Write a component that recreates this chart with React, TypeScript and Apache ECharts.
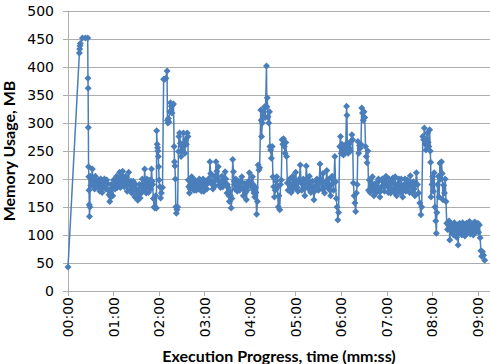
import React, { useEffect, useRef } from "react";
import * as echarts from "echarts";

// [seconds, MB]
const minute0: number[][] = [
  [0, 43],
  [15, 425], [15.4, 432], [15.8, 438], [16.2, 442],
  [19, 452], [23, 452], [26, 452],
  [26.3, 380], [26.5, 362], [26.8, 292], [27.1, 222], [27.4, 204], [27.7, 180], [28, 154], [28.3, 133], [28.8, 150], [29.3, 205], [30, 188],
  [31, 200], [32, 218], [33, 190], [34, 196], [35, 182], [36, 205], [37, 195], [38, 186], [39, 192], [40, 198], [41, 185],
  [42, 178], [43, 200], [44, 195], [45, 176], [46, 185], [47, 196], [48, 200], [49, 188], [50, 182],
  [51, 198], [52, 192], [53, 180], [54, 172], [55, 160], [56, 175], [56.5, 168], [57, 190], [58, 185], [59, 170],
];
const minute1: number[][] = [
  [60, 198], [61, 188], [62, 182], [63, 196], [64, 205], [65, 185], [66, 190], [67, 200], [68, 212], [69, 185],
  [70, 196], [71, 205], [72, 214], [73, 192], [74, 186], [75, 200], [76, 205], [77, 188], [78, 178], [79, 196],
  [80, 212], [81, 180], [82, 190], [83, 196], [84, 175], [85, 185], [86, 196], [87, 178], [88, 168], [89, 190],
  [90, 182], [91, 170], [92, 162], [93, 180], [94, 190], [95, 166], [96, 174], [97, 190], [98, 200], [99, 185],
  [100, 180], [101, 218], [102, 192], [102.5, 186], [103, 175], [104, 200], [105, 188], [106, 176], [107, 192],
  [108, 198], [109, 182], [110, 218], [111, 196], [111.5, 190], [112.5, 165],
  [113.5, 150], [114.5, 148], [115.5, 170], [116.5, 148], [116.8, 286], [117.5, 262], [118, 256], [118.5, 250],
  [119, 240], [119.5, 222],
];
const minute2: number[][] = [
  [120, 198], [121, 186], [122, 166], [123, 175], [124.5, 185],
  [126, 378], [127.5, 378], [129, 380], [130.5, 393], [131, 305], [131.6, 300], [132.3, 308], [133, 302],
  [134, 320], [135, 336], [136, 330], [137, 318], [138, 332], [139, 334], [139.8, 258], [140.3, 231], [140.8, 223],
  [141.5, 200], [142, 150], [142.8, 139], [143.6, 145], [144.4, 150], [145.5, 249], [146.2, 276], [147, 282],
  [148, 264], [149, 240], [150, 258], [151, 250], [152, 282], [153, 264], [154, 246], [155, 270], [156, 262],
  [157, 282], [158, 276], [158.5, 198], [159, 186], [160, 175], [161, 182], [161.5, 190], [162, 196], [163, 204],
  [164, 190], [165, 186], [166, 180], [167, 198], [168, 192], [169, 180], [170, 188], [171, 195], [172, 182],
  [173, 200], [174, 190], [175, 185], [176, 178], [177, 192], [178, 200], [179, 178],
];
const minute3: number[][] = [
  [180, 188], [181, 196], [182, 190], [183, 182], [184, 192], [185, 200], [186, 195], [187, 231], [188, 210],
  [189, 196], [190, 190], [191, 182], [192, 205], [193, 196], [194, 188], [195, 231], [196, 214], [197, 200],
  [198, 222], [199, 196], [200, 190], [201, 185], [202, 194], [203, 205], [204, 186], [205, 192], [206, 200],
  [207, 213], [208, 200], [209, 188], [209.5, 175], [210, 190], [211, 185], [212, 170], [212.5, 160], [213, 178],
  [214, 170], [215, 148], [216, 165], [217, 235], [218, 213], [219, 196], [219.5, 190], [220, 182], [221, 200],
  [222, 188], [223, 178], [224, 190], [225, 196], [226, 180], [227, 185], [228, 196], [229, 204], [230, 184],
  [231, 170], [232, 182], [233, 192], [234, 176], [235, 163], [236, 180], [237, 188], [238, 196], [239, 211],
];
const minute4: number[][] = [
  [240, 190], [241, 195], [242, 185], [243, 204], [244, 190], [244.5, 180], [245, 175], [246, 168], [247, 185], [247.5, 176], [248.5, 137], [249.5, 160], [250.5, 225],
  [251.5, 216], [252.5, 220], [254, 323], [254.5, 305], [255, 276], [256, 300], [257, 314], [258, 320], [259, 329],
  [260, 310], [261.5, 402], [262, 329], [262.5, 345], [263.5, 311], [264.5, 300], [265.5, 320], [266, 258],
  [267, 252], [268, 237], [269, 258], [270, 204], [271, 186], [272, 168], [273, 180], [274, 196], [275, 204],
  [276, 185], [277, 150], [278, 170], [279, 145], [280, 190], [281, 198], [282, 270], [283, 262], [284, 272],
  [285, 258], [286, 246], [287, 265], [288, 240], [289, 193], [290, 180], [291, 192], [292, 200], [293, 186],
  [294, 176], [295, 190], [296, 205], [297, 182], [298, 190], [299, 198],
];
const minute5: number[][] = [
  [300, 212], [301, 195], [302, 185], [303, 178], [304, 195], [305, 200], [306, 225], [307, 196], [308, 180],
  [309, 190], [310, 200], [311, 185], [312, 170], [313, 192], [314, 223], [315, 200], [316, 190], [317, 182],
  [318, 205], [319, 192], [320, 176], [321, 186], [322, 196], [323, 180], [324, 163], [325, 178], [326, 188],
  [327, 196], [328, 200], [329, 186], [330, 180], [331, 195], [332, 227], [333, 200], [334, 192], [335, 182],
  [336, 210], [337, 190], [338, 175], [339, 186], [340, 196], [341, 215], [342, 185], [343, 192], [344, 200],
  [345, 180], [346, 170], [347, 190], [348, 205], [349, 192], [350, 180],
  [351.5, 240], [352.5, 195], [353.5, 165], [354.5, 150], [355.5, 127], [356.5, 140], [358, 258], [359, 276],
];
const minute6: number[][] = [
  [360, 246], [361, 262], [362, 258], [363, 243], [364, 255], [365, 250], [366, 262], [367, 330], [367.5, 314],
  [368, 258], [369, 246], [370, 262], [371, 255], [372, 250], [373, 268], [374, 279], [375, 270], [376, 193],
  [377, 170], [378, 157], [379, 142], [380, 175], [381, 190], [382, 267], [383, 246], [384, 260], [385, 255],
  [386, 262], [387, 327], [388, 318], [389, 305], [390, 320], [391, 310], [392, 258], [393, 240], [394, 229],
  [395, 250], [396, 180], [397, 198], [398, 176], [399, 186], [400, 192], [401, 204], [402, 182], [403, 170],
  [404, 186], [405, 192], [406, 175], [407, 180], [408, 194], [409, 200], [410, 180], [411, 168], [412, 178],
  [413, 186], [414, 200], [415, 196], [416, 186], [417, 178], [418, 190], [419, 205],
];
const minute7: number[][] = [
  [420, 192], [421, 186], [422, 176], [423, 200], [424, 190], [425, 175], [426, 182], [427, 195], [428, 202],
  [429, 182], [430, 176], [431, 204], [432, 186], [433, 170], [434, 180], [435, 192], [436, 200], [437, 185],
  [438, 176], [439, 200], [440, 188], [441, 168], [442, 180], [443, 190], [444, 200], [445, 178], [446, 186],
  [447, 198], [448, 192], [449, 184], [450, 176], [451, 206], [452, 190], [453, 176], [454, 186], [455, 195],
  [456, 182], [457, 170], [458, 190], [459, 211], [460.5, 190], [462, 175], [463.5, 157], [465, 136], [466, 150], [467.5, 276],
  [468.5, 270], [469.5, 291], [470.5, 262], [471.5, 252], [472.5, 270], [473.5, 282], [474.5, 265], [475.5, 258],
  [476.5, 288], [477.3, 250], [477.8, 230], [478.3, 168], [479.5, 190],
];
const minute8: number[][] = [
  [480.5, 204], [481.5, 178], [482.5, 211], [483.5, 150], [484.5, 125], [485.3, 103], [486, 140], [487, 190],
  [488, 205], [489, 168], [490, 228], [491, 200], [492, 231], [493, 210], [494, 163], [495, 189], [496, 175],
  [497, 200], [498, 160], [499, 121], [500, 110], [501, 118], [502, 125], [503, 91], [504, 112], [505, 120],
  [506, 105], [507, 117], [508, 100], [509, 122], [510, 108], [511, 115], [512, 96], [513, 118], [514, 82],
  [515, 110], [516, 121], [517, 104], [518, 116], [519, 100], [520, 122], [521, 108], [522, 117], [523, 98],
  [524, 113], [525, 121], [526, 105], [527, 118], [528, 110], [529, 124], [530, 102], [531, 115], [532, 108],
  [533, 120], [534, 100], [535, 112], [536, 123], [537, 105], [538, 116], [539, 110],
];
const minute9: number[][] = [
  [540, 121], [541, 105], [542, 118], [543, 95], [544, 72], [545, 62], [546, 70], [547.5, 64], [549, 55],
];

const xTickSeconds = [0, 60, 120, 180, 240, 300, 360, 420, 480, 540];
const yTicks = [0, 50, 100, 150, 200, 250, 300, 350, 400, 450, 500];

const memorySeries = [
  ...minute0, ...minute1, ...minute2, ...minute3, ...minute4,
  ...minute5, ...minute6, ...minute7, ...minute8, ...minute9,
];

const fmt = (v: number) => {
  const m = Math.floor(v / 60);
  const s = Math.round(v - m * 60);
  return `${String(m).padStart(2, "0")}:${String(s).padStart(2, "0")}`;
};

export default function App() {
  const ref = useRef<HTMLDivElement>(null);
  useEffect(() => {
    if (!ref.current) return;
    const chart = echarts.init(ref.current, null, { renderer: "svg" });
    const gray = "#ADADAD";
    chart.setOption({
      animation: false,
      grid: { left: 68, top: 11, right: 0, bottom: 73, containLabel: false, outerBoundsMode: "none" },
      xAxis: {
        type: "value",
        min: 0,
        max: 556,
        interval: 60,
        name: "Execution Progress, time (mm:ss)",
        nameLocation: "middle",
        nameGap: 56,
        nameTextStyle: { fontFamily: "Lato", fontWeight: "bold", fontSize: 16, color: "#000" },
        axisLine: { show: true, lineStyle: { color: gray, width: 1 } },
        axisTick: { show: true, length: 5, customValues: xTickSeconds, lineStyle: { color: gray } },
        axisLabel: {
          customValues: xTickSeconds,
          rotate: 90,
          margin: 6,
          formatter: (v: number) => fmt(v),
          fontFamily: "DejaVu Sans",
          fontSize: 14,
          color: "#000",
        },
        splitLine: { show: false },
      },
      yAxis: {
        type: "value",
        min: 0,
        max: 500,
        interval: 50,
        name: "Memory Usage, MB",
        nameLocation: "middle",
        nameGap: 38,
        nameTextStyle: { fontFamily: "Lato", fontWeight: "bold", fontSize: 16, color: "#000" },
        axisLine: { show: true, lineStyle: { color: gray, width: 1 } },
        axisTick: { show: true, length: 5, lineStyle: { color: gray } },
        axisLabel: {
          customValues: yTicks,
          margin: 14,
          fontFamily: "DejaVu Sans",
          fontSize: 14,
          color: "#000",
        },
        splitLine: { show: true, lineStyle: { color: gray, width: 1 } },
      },
      series: [
        {
          type: "line",
          data: memorySeries,
          symbol: "diamond",
          symbolSize: 7,
          showAllSymbol: true,
          itemStyle: { color: "#4A7EBB" },
          lineStyle: { color: "#4A7EBB", width: 1.5 },
        },
      ],
    });
    return () => chart.dispose();
  }, []);
  return (
    <div
      ref={ref}
      style={{ position: "absolute", left: 0, top: 0, width: 490, height: 364 }}
    />
  );
}
